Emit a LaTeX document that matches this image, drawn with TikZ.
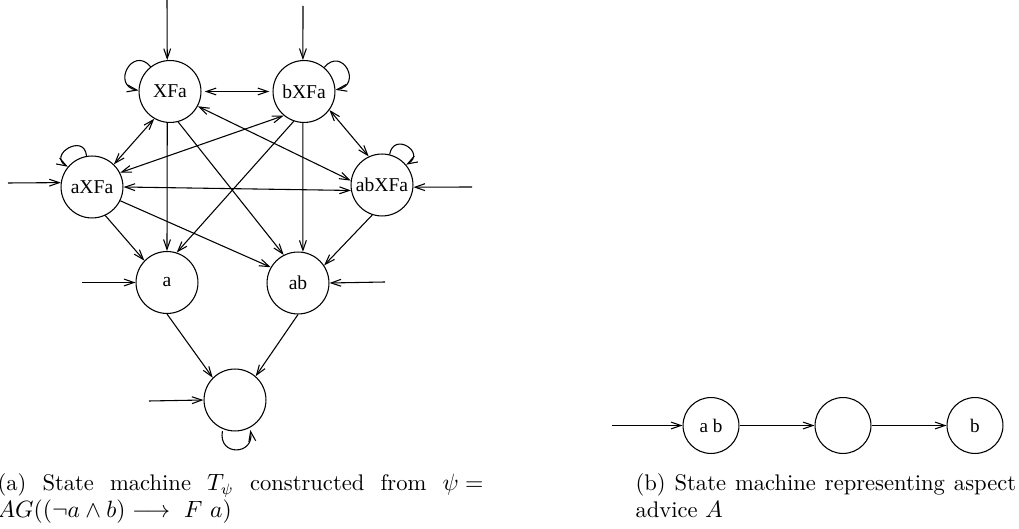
\documentclass[tikz,border=0pt]{standalone}
\usepackage{fontspec}
\newfontfamily\tms{Liberation Serif}
\usetikzlibrary{arrows.meta}
\begin{document}
\begin{tikzpicture}[x=0.465pt, y=-0.465pt,
  >={Straight Barb[length=4.6pt,width=3.2pt]},
  line width=0.5pt,
  st/.style={circle, draw, line width=0.5pt, minimum size=28.8pt, inner sep=0pt, font=\tms\fontsize{9.1}{10}\selectfont},
  sb/.style={circle, draw, line width=0.5pt, minimum size=26pt, inner sep=0pt, font=\tms\fontsize{8.9}{10}\selectfont},
  captxt/.style={anchor=north west, inner sep=0pt, align=justify, font=\fontsize{10.5}{12.6}\selectfont}
]
\useasboundingbox (0,0) rectangle (1019,529);
% (a) states
\node[st] (XFa) at (170,91.5) {XFa};
\node[st] (bXFa) at (304,91.5) {bXFa};
\node[st] (aXFa) at (92,187) {aXFa};
\node[st] (abXFa) at (382,185) {abXFa};
\node[st] (a) at (167,282.5) {a};
\node[st] (ab) at (298,283) {ab};
\node[st] (fin) at (235,400) {};
% initial arrows
\coordinate (i1) at (167,0);
\coordinate (i2) at (303,6);
\coordinate (i3) at (8,183);
\coordinate (i4) at (472,187);
\coordinate (i5) at (82,282.5);
\coordinate (i6) at (385,282);
\coordinate (i7) at (149,401);
\draw[->] (i1) -- (XFa.95);
\draw[->] (i2) -- (bXFa.92);
\draw[->] (i3) -- (aXFa.172);
\draw[->] (i4) -- (abXFa.-4);
\draw[->] (i5) -- (a.180);
\draw[->] (i6) -- (ab.0);
\draw[->] (i7) -- (fin.180);
% self loops
\draw[->] (XFa.128) .. controls +(130:13pt) and +(170:13pt) .. (XFa.178);
\draw[->] (bXFa.50) .. controls +(50:13pt) and +(10:13pt) .. (bXFa.3);
\draw[->] (aXFa.100) .. controls +(95:11pt) and +(150:11pt) .. (aXFa.140);
\draw[->] (abXFa.76) .. controls +(80:11pt) and +(30:11pt) .. (abXFa.40);
\draw[->] ([shift={(-112:1pt)}]fin.-112) .. controls +(-100:12pt) and +(-80:12pt) .. ([shift={(-63:1pt)}]fin.-63);
% two-way edges
\draw[<->, shorten <=1.5pt, shorten >=1.5pt] (XFa.0) -- (bXFa.180);
\draw[<->] (XFa.-120) -- (aXFa.46);
\draw[<->] (bXFa.-130) -- (aXFa.27);
\draw[<->] (XFa.-28) -- (abXFa.172);
\draw[<->] (bXFa.-36) -- (abXFa.115);
\draw[<->] (aXFa.0) -- (abXFa.190);
% one-way edges
\draw[->] (XFa.-95) -- (a.90);
\draw[->] (XFa.-75) -- (ab.117);
\draw[->] (bXFa.-109) -- (a.72);
\draw[->] (bXFa.-92) -- (ab.81);
\draw[->] (aXFa.-65) -- (a.136);
\draw[->] (aXFa.-26) -- (ab.150);
\draw[->] (abXFa.-108) -- (ab.34);
\draw[->] (a.-90) -- (fin.135);
\draw[->] (ab.-90) -- (fin.49);
% (b)
\node[sb] (b1) at (711,425.5) {a b};
\node[sb] (b2) at (843,425.5) {};
\node[sb] (b3) at (975,425.5) {b};
\coordinate (ib) at (612,425.5);
\draw[->] (ib) -- (b1);
\draw[->] (b1) -- (b2);
\draw[->] (b2) -- (b3);
% captions
\node[captxt, text width=226pt] (capa) at (-3,473) {(a) State machine $T_\psi$ constructed from $\thickmuskip=5mu \psi =$\linebreak $AG((\neg a \wedge b) \longrightarrow\ F\ a)$};
\node[captxt, text width=177pt] (capb) at (635,473) {(b) State machine representing aspect\linebreak advice $A$};
\end{tikzpicture}
\end{document}
